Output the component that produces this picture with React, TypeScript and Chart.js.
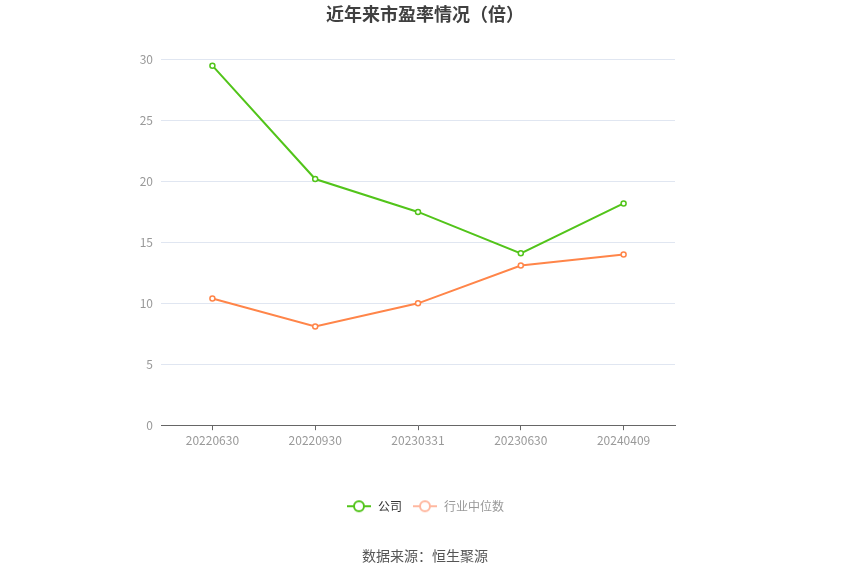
import { useEffect, useRef } from "react";
import { Chart, registerables } from "chart.js";

Chart.register(...registerables);

const FONT = "'Noto Sans CJK SC', 'Noto Sans', sans-serif";

const categories = ["20220630", "20220930", "20230331", "20230630", "20240409"];
const companyPE = [29.5, 20.2, 17.5, 14.1, 18.2];
const industryPE = [10.4, 8.1, 10.0, 13.1, 14.0];
const yTicks = [0, 5, 10, 15, 20, 25, 30];

const GREEN = "#52c41a";
const ORANGE = "#ff8549";

// small line + hollow circle icon for the legend
function legendIcon(color: string) {
  const c = document.createElement("canvas");
  c.width = 26;
  c.height = 14;
  const ctx = c.getContext("2d");
  if (ctx) {
    ctx.strokeStyle = color;
    ctx.lineWidth = 2;
    ctx.beginPath();
    ctx.moveTo(1, 7);
    ctx.lineTo(25, 7);
    ctx.stroke();
    ctx.fillStyle = "#fff";
    ctx.beginPath();
    ctx.arc(13, 7, 5, 0, Math.PI * 2);
    ctx.fill();
    ctx.stroke();
  }
  return c;
}

export default function App() {
  const chartRef = useRef<HTMLCanvasElement>(null);

  useEffect(() => {
    if (!chartRef.current) return;
    const ctx = chartRef.current.getContext("2d");
    if (!ctx) return;

    const icons = [legendIcon(GREEN), legendIcon("#ffb8a0")];
    const textColors = ["#333", "#999"];

    const myChart = new Chart(ctx, {
      type: "line",
      data: {
        labels: categories,
        datasets: [
          {
            label: "公司",
            data: companyPE,
            borderColor: GREEN,
            backgroundColor: "#fff",
            borderWidth: 2,
            pointRadius: 2.5,
            pointBorderWidth: 1.5,
            pointBackgroundColor: "#fff",
            pointBorderColor: GREEN,
            tension: 0,
          },
          {
            label: "行业中位数",
            data: industryPE,
            borderColor: ORANGE,
            backgroundColor: "#fff",
            borderWidth: 2,
            pointRadius: 2.5,
            pointBorderWidth: 1.5,
            pointBackgroundColor: "#fff",
            pointBorderColor: ORANGE,
            tension: 0,
          },
        ],
      },
      options: {
        responsive: false,
        animation: false,
        layout: { padding: 0 },
        plugins: {
          title: {
            display: true,
            text: "近年来市盈率情况（倍）",
            color: "#404040",
            font: { family: FONT, size: 18, weight: "bold" },
            padding: { top: 3, bottom: 35 },
          },
          subtitle: {
            display: true,
            position: "bottom",
            text: "数据来源：恒生聚源",
            color: "#555",
            font: { family: FONT, size: 14 },
            padding: { top: 25.5, bottom: 9.5 },
          },
          legend: {
            position: "bottom",
            labels: {
              usePointStyle: true,
              pointStyleWidth: 26,
              padding: 10,
              font: { family: FONT, size: 12 },
              generateLabels: (chart) =>
                chart.data.datasets.map((ds, i) => ({
                  text: ds.label as string,
                  pointStyle: icons[i],
                  fontColor: textColors[i],
                  datasetIndex: i,
                  hidden: false,
                  lineWidth: 0,
                  strokeStyle: "transparent",
                  fillStyle: "transparent",
                })),
            },
          },
          tooltip: { enabled: false },
        },
        scales: {
          x: {
            offset: true,
            afterFit: (axis) => {
              axis.height = 65;
            },
            grid: {
              display: true,
              drawOnChartArea: false,
              drawTicks: true,
              tickLength: 5,
              color: "#666",
              offset: false,
            },
            border: { display: true, color: "#666" },
            ticks: {
              color: "#999",
              padding: 3,
              font: { family: FONT, size: 12 },
              maxRotation: 0,
            },
          },
          y: {
            min: 0,
            max: 30,
            afterFit: (axis) => {
              axis.width = 161;
            },
            afterBuildTicks: (axis) => {
              axis.ticks = yTicks.map((v) => ({ value: v }));
            },
            grid: { color: "#e0e6f1", drawTicks: false },
            border: { display: false },
            ticks: {
              color: "#999",
              padding: 8,
              font: { family: FONT, size: 12 },
            },
          },
          // empty right axis that only reserves the blank space on the right
          spacer: {
            type: "linear",
            position: "right",
            display: true,
            afterFit: (axis) => {
              axis.width = 175;
            },
            grid: { display: false, drawTicks: false },
            border: { display: false },
            ticks: { display: false },
          },
        },
      },
    });

    return () => {
      myChart.destroy();
    };
  }, []);

  return (
    <div style={{ position: "fixed", left: 0, top: 0, width: 850, height: 574, background: "#fff" }}>
      <canvas ref={chartRef} width={850} height={574} />
    </div>
  );
}
